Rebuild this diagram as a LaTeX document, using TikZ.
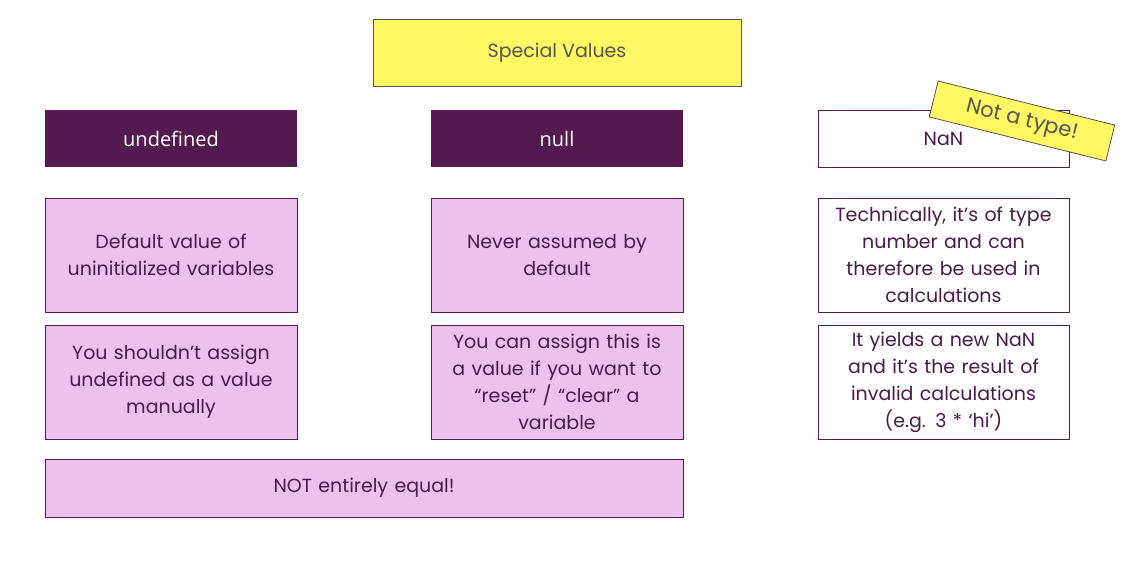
\documentclass[tikz,border=0pt]{standalone}
\usepackage{fontspec}
\setmainfont{Poppins}
\newfontfamily\hdfont{Open Sans}
\definecolor{plum}{HTML}{541A4F}
\definecolor{pinkbox}{HTML}{EDC1EB}
\definecolor{txt}{HTML}{4A1B48}
\definecolor{sticky}{HTML}{FFF862}
\definecolor{graytxt}{HTML}{555555}
\begin{document}
\begin{tikzpicture}[x=1pt,y=-1pt,
  base/.style={inner sep=2pt, align=center, font=\fontsize{19}{27}\selectfont},
  headbox/.style={base, fill=plum, text=white, minimum width=252pt, minimum height=57pt, font=\hdfont\fontsize{20}{27}\selectfont},
  pinkcell/.style={base, fill=pinkbox, draw=plum, line width=0.8pt, text=txt, minimum width=252pt, minimum height=114pt, text width=244pt},
  whitecell/.style={base, fill=white, draw=plum, line width=0.8pt, text=txt, minimum width=251pt, minimum height=114pt},
  notebox/.style={base, fill=sticky, draw=graytxt, line width=0.8pt, text=graytxt}]
\useasboundingbox (0,0) rectangle (1135,587);
\node[notebox, minimum width=368pt, minimum height=67pt] (title) at (557,52.5) {Special Values};
\node[headbox] (undef) at (171,138.5) {undefined};
\node[headbox] (null) at (557,138.5) {null};
\node[whitecell, minimum height=57pt] (nan) at (943.5,138.5) {NaN};
\node[pinkcell] (u1) at (171,255) {Default value of\\uninitialized variables};
\node[pinkcell] (n1) at (557,255) {Never assumed by\\default};
\node[whitecell, text width=243pt] (x1) at (943.5,255) {Technically, it’s of type\\number and can\\therefore be used in\\calculations};
\node[pinkcell] (u2) at (171,382) {You shouldn’t assign\\undefined as a value\\manually};
\node[pinkcell] (n2) at (557,382) {You can assign this is\\a value if you want to\\“reset” / “clear” a\\variable};
\node[whitecell, text width=243pt] (x2) at (943.5,382) {It yields a new NaN\\and it’s the result of\\invalid calculations\\(e.g. 3 * ‘hi’)};
\node[pinkcell, minimum width=638pt, minimum height=58pt, text width=600pt] (neq) at (364,488) {NOT entirely equal!};
\node[notebox, minimum width=182pt, minimum height=37pt, rotate=-14, font=\fontsize{21}{24}\selectfont] (nat) at (1022,121) {Not a type!};
\end{tikzpicture}
\end{document}
